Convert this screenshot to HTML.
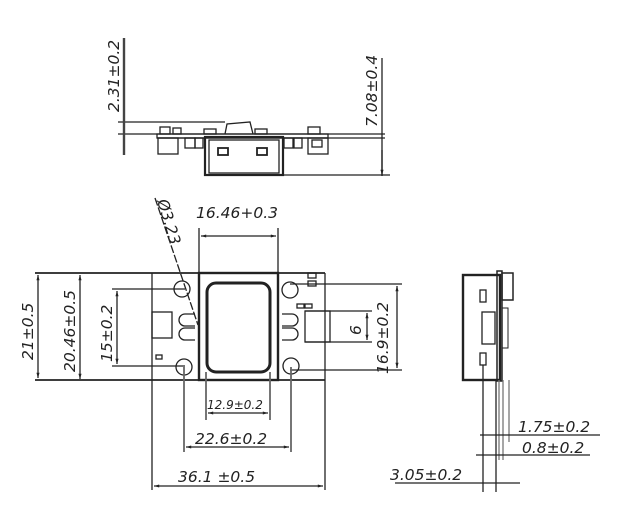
<!DOCTYPE html>
<html><head><meta charset="utf-8"><style>
html,body{margin:0;padding:0;background:#fff}
svg{display:block}
text{font-family:"DejaVu Sans","Liberation Sans",sans-serif;font-style:italic;fill:#222}
</style></head><body>
<svg width="630" height="527" viewBox="0 0 630 527" xmlns="http://www.w3.org/2000/svg">
<defs>
<marker id="a" viewBox="0 0 10 10" refX="10" refY="5" markerWidth="6" markerHeight="4" orient="auto-start-reverse"><path d="M0,2 L10,5 L0,8z" fill="#222"/></marker>
</defs>
<g stroke="#222" fill="none" stroke-width="1.3">
<line x1="118" y1="122" x2="225" y2="122"/>
<line x1="118" y1="134" x2="385" y2="134"/>
<line x1="157" y1="138" x2="385" y2="138"/>
<rect x="157" y="134" width="171" height="4"/>
<rect x="205" y="137" width="78" height="38" stroke-width="2.2"/>
<rect x="209" y="140" width="70" height="33"/>
<rect x="218" y="148" width="10" height="7" stroke-width="1.8"/>
<rect x="257" y="148" width="10" height="7" stroke-width="1.8"/>
<line x1="205" y1="175" x2="390" y2="175"/>
<path d="M225,134 L227,124 L250,122 L253,134"/>
<rect x="160" y="127" width="10" height="7"/><rect x="173" y="128" width="8" height="6"/>
<rect x="158" y="138" width="20" height="16"/>
<rect x="185" y="138" width="10" height="10"/><rect x="195" y="138" width="8" height="10"/>
<rect x="204" y="129" width="12" height="5"/><rect x="255" y="129" width="12" height="5"/>
<rect x="284" y="138" width="9" height="10"/><rect x="294" y="138" width="8" height="10"/>
<rect x="308" y="127" width="12" height="7"/>
<rect x="308" y="138" width="20" height="16"/><rect x="312" y="140" width="10" height="7"/>
<line x1="124" y1="38" x2="124" y2="155" stroke-width="2.4" stroke="#444"/>
<line x1="382" y1="58" x2="382" y2="176"/>
<line x1="382" y1="150" x2="382" y2="175" marker-end="url(#a)"/>
<line x1="35" y1="273" x2="325" y2="273" stroke-width="1.8"/>
<line x1="35" y1="380" x2="325" y2="380" stroke-width="1.8"/>
<line x1="152" y1="273" x2="152" y2="490"/>
<line x1="325" y1="273" x2="325" y2="490"/>
<line x1="38" y1="275" x2="38" y2="378" marker-start="url(#a)" marker-end="url(#a)"/>
<line x1="80" y1="275" x2="80" y2="379" marker-start="url(#a)" marker-end="url(#a)"/>
<line x1="112" y1="289" x2="185" y2="289"/>
<line x1="112" y1="366" x2="185" y2="366"/>
<line x1="117" y1="291" x2="117" y2="364" marker-start="url(#a)" marker-end="url(#a)"/>
<rect x="199" y="273" width="79" height="107" stroke-width="2.4"/>
<rect x="207" y="283" width="63" height="89" rx="9" stroke-width="3"/>
<circle cx="182" cy="289" r="8"/><circle cx="184" cy="367" r="8"/>
<circle cx="290" cy="290" r="8"/><circle cx="291" cy="366" r="8"/>
<rect x="152" y="312" width="20" height="26"/>
<path d="M195,314 h-10 a6,6 0 0 0 0,12 h10 M195,328 h-10 a6,6 0 0 0 0,12 h10"/>
<path d="M282,314 h10 a6,6 0 0 1 0,12 h-10 M282,328 h10 a6,6 0 0 1 0,12 h-10"/>
<rect x="305" y="311" width="25" height="31"/>
<rect x="308" y="273" width="8" height="5"/><rect x="308" y="281" width="8" height="5"/>
<rect x="297" y="304" width="7" height="4"/><rect x="305" y="304" width="7" height="4"/>
<rect x="156" y="355" width="6" height="4"/>
<line x1="290" y1="284" x2="402" y2="284"/>
<line x1="290" y1="370" x2="402" y2="370"/>
<line x1="397" y1="286" x2="397" y2="368" marker-start="url(#a)" marker-end="url(#a)"/>
<line x1="305" y1="311" x2="372" y2="311"/>
<line x1="305" y1="342" x2="372" y2="342"/>
<line x1="367" y1="313" x2="367" y2="340" marker-start="url(#a)" marker-end="url(#a)"/>
<line x1="199" y1="228" x2="199" y2="273"/><line x1="278" y1="228" x2="278" y2="273"/>
<line x1="201" y1="236" x2="276" y2="236" marker-start="url(#a)" marker-end="url(#a)"/>
<line x1="155" y1="198" x2="198" y2="325" stroke-dasharray="8,2"/>
<line x1="184" y1="367" x2="184" y2="452" stroke="#666" stroke-width="1.8"/>
<line x1="291" y1="367" x2="291" y2="452" stroke="#666" stroke-width="1.8"/>
<line x1="186" y1="447" x2="289" y2="447" marker-start="url(#a)" marker-end="url(#a)"/>
<line x1="206" y1="372" x2="206" y2="420" stroke="#666" stroke-width="1.8"/>
<line x1="270" y1="372" x2="270" y2="420" stroke="#666" stroke-width="1.8"/>
<line x1="208" y1="413" x2="268" y2="413" marker-start="url(#a)" marker-end="url(#a)"/>
<line x1="154" y1="486" x2="323" y2="486" marker-start="url(#a)" marker-end="url(#a)"/>
<rect x="463" y="275" width="37" height="105" stroke-width="2.4"/>
<rect x="497" y="271" width="5" height="110" stroke-width="1.5"/>
<rect x="502" y="273" width="11" height="27" stroke-width="1.5"/>
<rect x="480" y="290" width="6" height="12"/><rect x="480" y="353" width="6" height="12"/>
<rect x="482" y="312" width="13" height="32"/>
<rect x="502" y="308" width="6" height="40" stroke-width="1"/>
<line x1="483" y1="365" x2="483" y2="492"/>
<line x1="496" y1="380" x2="496" y2="492"/>
<line x1="499" y1="380" x2="499" y2="460" stroke="#777"/>
<line x1="503" y1="380" x2="503" y2="460" stroke="#777"/>
<line x1="509" y1="380" x2="509" y2="442" stroke="#777"/>
<line x1="480" y1="435" x2="600" y2="435"/>
<line x1="476" y1="455" x2="590" y2="455"/>
<line x1="395" y1="483" x2="520" y2="483"/>
</g>
<g font-size="15.5">
<text transform="translate(119,112) rotate(-90)">2.31±0.2</text>
<text transform="translate(377,127) rotate(-90)">7.08±0.4</text>
<text x="196" y="218">16.46+0.3</text>
<text transform="translate(157,201) rotate(73)">Ø3.23</text>
<text transform="translate(33,360) rotate(-90)">21±0.5</text>
<text transform="translate(75,372) rotate(-90)">20.46±0.5</text>
<text transform="translate(112,362) rotate(-90)">15±0.2</text>
<text transform="translate(388,374) rotate(-90)">16.9±0.2</text>
<text transform="translate(361,335) rotate(-90)">6</text>
<text x="207" y="409" font-size="12">12.9±0.2</text>
<text x="195" y="444">22.6±0.2</text>
<text x="178" y="482">36.1  ±0.5</text>
<text x="518" y="432">1.75±0.2</text>
<text x="522" y="453">0.8±0.2</text>
<text x="390" y="480">3.05±0.2</text>
</g>
</svg>
</body></html>
